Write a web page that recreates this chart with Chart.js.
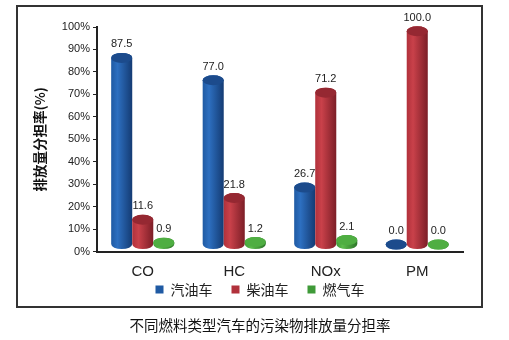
<!DOCTYPE html>
<html>
<head>
<meta charset="utf-8">
<script src="https://cdn.jsdelivr.net/npm/chart.js@4.4.0/dist/chart.umd.min.js"></script>
<style>
  html, body { margin: 0; padding: 0; background: #fff; }
  #wrap { position: relative; width: 509px; height: 340px; }
</style>
</head>
<body>
<div id="wrap"><canvas id="myChart" width="509" height="340"></canvas></div>
<script>
// data
const categories = ['CO', 'HC', 'NOx', 'PM']
const seriesNames = ['汽油车', '柴油车', '燃气车']
const gasoline = [87.5, 77.0, 26.7, 0.0]
const diesel = [11.6, 21.8, 71.2, 100.0]
const gasCar = [0.9, 1.2, 2.1, 0.0]
const yMax = 100
const yStep = 10

const CJK = '"Noto Sans CJK SC", "Liberation Sans", sans-serif'
const LATIN = '"Liberation Sans", Arial, sans-serif'

// colours per series: [edge, highlight, dark side, top cap]
const palette = [
  ['#1f5aa3', '#2d6fc0', '#143b73', '#1c4b8c'],
  ['#b1313b', '#c9414a', '#7c1e27', '#952832'],
  ['#3f9a38', '#5cbc4c', '#2c7428', '#4fae42']
]

// draw each bar as a small cylinder, using the bar elements chart.js laid out
const cylinders = {
  id: 'cylinders',
  beforeDatasetsDraw(chart) {
    const ctx = chart.ctx
    chart.data.datasets.forEach((ds, i) => {
      const meta = chart.getDatasetMeta(i)
      const c = palette[i]
      meta.data.forEach((bar, j) => {
        const x = bar.x
        const rx = bar.width / 2
        const ry = 5
        const yb = bar.base - 7
        const yt = yb - (bar.base - bar.y) * 0.95

        const grad = ctx.createLinearGradient(x - rx, 0, x + rx, 0)
        grad.addColorStop(0, c[0])
        grad.addColorStop(0.3, c[1])
        grad.addColorStop(1, c[2])

        ctx.save()
        ctx.beginPath()
        ctx.moveTo(x - rx, yt)
        ctx.lineTo(x - rx, yb)
        ctx.ellipse(x, yb, rx, ry, 0, Math.PI, 0, true)
        ctx.lineTo(x + rx, yt)
        ctx.ellipse(x, yt, rx, ry, 0, 0, Math.PI, true)
        ctx.closePath()
        ctx.fillStyle = grad
        ctx.fill()

        ctx.beginPath()
        ctx.ellipse(x, yt, rx, ry, 0, 0, Math.PI * 2)
        ctx.fillStyle = c[3]
        ctx.fill()

        ctx.fillStyle = '#222'
        ctx.font = '11px ' + LATIN
        ctx.textAlign = 'center'
        ctx.textBaseline = 'bottom'
        ctx.fillText(ds.data[j].toFixed(1), x, yt - ry - 3)
        ctx.restore()
      })
    })
    return false
  }
}

// outer frame around plot + legend
const frame = {
  id: 'frame',
  afterDraw(chart) {
    const ctx = chart.ctx
    ctx.save()
    ctx.strokeStyle = '#333'
    ctx.lineWidth = 2
    ctx.strokeRect(17, 6, 465, 301)
    ctx.restore()
  }
}

const ctx = document.getElementById('myChart').getContext('2d')
new Chart(ctx, {
  type: 'bar',
  data: {
    labels: categories,
    datasets: [
      { label: seriesNames[0], data: gasoline, backgroundColor: palette[0][0] },
      { label: seriesNames[1], data: diesel, backgroundColor: palette[1][0] },
      { label: seriesNames[2], data: gasCar, backgroundColor: palette[2][0] }
    ]
  },
  options: {
    responsive: false,
    animation: false,
    layout: { padding: { left: 57, right: 46, top: 27, bottom: 6 } },
    datasets: { bar: { categoryPercentage: 0.69, barPercentage: 1.0 } },
    scales: {
      x: {
        // short axis box so the legend sits close; mirrored labels are not clipped to it
        afterFit(scale) { scale.height = 12 },
        grid: { display: false, drawTicks: false },
        border: { display: true, color: '#222', width: 2 },
        ticks: { mirror: true, color: '#222', padding: -29, font: { family: LATIN, size: 15 } }
      },
      y: {
        min: 0,
        max: yMax,
        afterFit(scale) { scale.width = 40 },
        grid: { drawOnChartArea: false, drawTicks: true, tickLength: 4, color: '#222' },
        border: { display: true, color: '#222', width: 2 },
        ticks: {
          stepSize: yStep,
          padding: 3,
          color: '#222',
          font: { family: LATIN, size: 11 },
          callback: v => v + '%'
        },
        title: {
          display: true,
          text: '排放量分担率(%)',
          color: '#111',
          padding: { top: -25, bottom: 0 },
          font: { family: CJK, size: 13.5, weight: 'bold' }
        }
      }
    },
    plugins: {
      legend: {
        position: 'bottom',
        labels: {
          boxWidth: 8,
          boxHeight: 8,
          padding: 19,
          color: '#222',
          font: { family: CJK, size: 14 }
        }
      },
      title: {
        display: true,
        position: 'bottom',
        text: '不同燃料类型汽车的污染物排放量分担率',
        color: '#111',
        padding: { top: 10, bottom: 0 },
        font: { family: CJK, size: 14.5, weight: 'normal' }
      },
      tooltip: { enabled: false }
    }
  },
  plugins: [cylinders, frame]
})
</script>
</body>
</html>
